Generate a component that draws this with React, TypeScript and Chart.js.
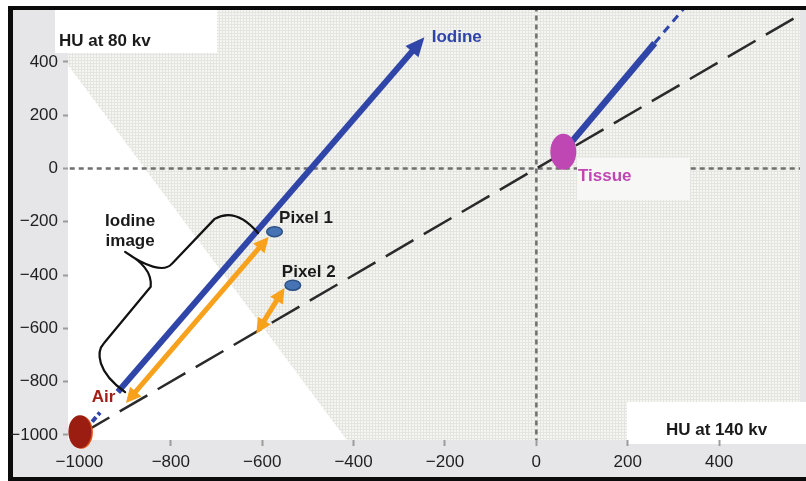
import { useEffect, useRef } from 'react';
import { Chart, registerables } from 'chart.js';

Chart.register(...registerables);

const W = 806;
const H = 481;
const FONT = '"Liberation Sans", Arial, Helvetica, sans-serif';

// ---- axes ----
const X_TICKS = [-1000, -800, -600, -400, -200, 0, 200, 400];
const Y_TICKS = [-1000, -800, -600, -400, -200, 0, 200, 400];
const X_RANGE = [-1025, 577];
const Y_RANGE = [-1019, 595];

// ---- lines (HU at 140 kv -> x, HU at 80 kv -> y) ----
const identityX = [-995, 620];
const identityY = [-995, 620];
const originHX = [-1100, 700];
const originHY = [0, 0];
const originVX = [0, 0];
const originVY = [-1100, 700];
const iodineX = [-916, -255];
const iodineY = [-839, 473];
const iodineStubX = [-985, -955];
const iodineStubY = [-976, -916];
const tissueLineX = [59, 259];
const tissueLineY = [63, 471];
const tissueTrendX = [259, 345];
const tissueTrendY = [471, 646];
const pixel1ArrowX = [-891, -593];
const pixel1ArrowY = [-866, -271];
const pixel2ArrowX = [-607, -557];
const pixel2ArrowY = [-603, -464];

// ---- points ----
const pixelNames = ['Pixel 1', 'Pixel 2'];
const pixelX = [-573, -533];
const pixelY = [-237, -438];
const airX = [-999];
const airY = [-988];
const tissueX = [59];
const tissueY = [63];

// ---- bracket ("Iodine image") path, data units ----
const bracketPath: [string, number[]][] = [
  ['M', [-609, -242]],
  ['Q', [-658, -144, -704, -189]],
  ['L', [-798, -358]],
  ['C', [-815, -392, -857, -366, -900, -313]],
  ['C', [-863, -351, -841, -388, -844, -444]],
  ['L', [-946, -655]],
  ['C', [-964, -688, -962, -764, -900, -839]],
];

const fmt = (v: number) => (v < 0 ? '\u2212' + Math.abs(v) : String(v));
const pts = (xs: number[], ys: number[]) => xs.map((x, i) => ({ x, y: ys[i] }));

const BLUE = '#2f45a8';
const ORANGE = '#f7a11c';

function makePattern(ctx: CanvasRenderingContext2D) {
  const c = document.createElement('canvas');
  c.width = 3;
  c.height = 3;
  const g = c.getContext('2d')!;
  g.fillStyle = '#f5f5f2';
  g.fillRect(0, 0, 3, 3);
  g.fillStyle = '#e4e4e0';
  g.fillRect(0, 0, 3, 1);
  g.fillRect(0, 0, 1, 3);
  return ctx.createPattern(c, 'repeat');
}

const bgPlugin = {
  id: 'bg',
  beforeDraw(chart: any) {
    const { ctx, chartArea: ca, scales } = chart;
    const X = (v: number) => scales.x.getPixelForValue(v);
    const Y = (v: number) => scales.y.getPixelForValue(v);
    ctx.save();
    ctx.fillStyle = '#ffffff';
    ctx.fillRect(0, 0, W, H);
    ctx.fillStyle = '#e6e6e8';
    ctx.fillRect(8, 6, W - 8, H - 6);
    ctx.fillStyle = '#0b0b0b';
    ctx.fillRect(8, 6, W - 8, 4);
    ctx.fillRect(8, 6, 5, H - 6);
    ctx.fillRect(8, 477, W - 8, 4);
    // patterned plot area
    ctx.fillStyle = makePattern(ctx);
    ctx.fillRect(ca.left, ca.top, ca.width, ca.height);
    // white triangle (lower-left)
    ctx.fillStyle = '#ffffff';
    ctx.beginPath();
    ctx.moveTo(ca.left, Y(389));
    ctx.lineTo(ca.left, ca.bottom);
    ctx.lineTo(X(-415), ca.bottom);
    ctx.closePath();
    ctx.fill();
    // label boxes
    ctx.fillRect(ca.left - 13, ca.top, 162, 43);
    ctx.fillRect(ca.right - 173, ca.bottom - 38, 179, 42);
    ctx.restore();
  },
};

const annoPlugin = {
  id: 'anno',
  afterDatasetsDraw(chart: any) {
    const { ctx, chartArea: ca, scales } = chart;
    const X = (v: number) => scales.x.getPixelForValue(v);
    const Y = (v: number) => scales.y.getPixelForValue(v);
    ctx.save();

    // arrow heads
    chart.data.datasets.forEach((ds: any, i: number) => {
      if (!ds.arrowEnd && !ds.arrowStart) return;
      const p = chart.getDatasetMeta(i).data;
      const head = (a: any, b: any) => {
        const dx = b.x - a.x;
        const dy = b.y - a.y;
        const d = Math.hypot(dx, dy);
        const ux = dx / d;
        const uy = dy / d;
        const tx = b.x + ux * ds.headExt;
        const ty = b.y + uy * ds.headExt;
        const bx = tx - ux * ds.headLen;
        const by = ty - uy * ds.headLen;
        const hh = ds.headHalf;
        ctx.beginPath();
        ctx.moveTo(tx, ty);
        ctx.lineTo(bx - uy * hh, by + ux * hh);
        ctx.lineTo(bx + uy * hh, by - ux * hh);
        ctx.closePath();
        ctx.fillStyle = ds.borderColor;
        ctx.fill();
      };
      if (ds.arrowEnd) head(p[p.length - 2], p[p.length - 1]);
      if (ds.arrowStart) head(p[1], p[0]);
    });

    // tissue label box
    ctx.fillStyle = '#f7f7f6';
    ctx.fillRect(X(89), Y(40), X(336) - X(89), Y(-118) - Y(40));

    // bracket
    ctx.beginPath();
    bracketPath.forEach(([cmd, v]) => {
      const q = v.map((n, k) => (k % 2 === 0 ? X(n) : Y(n)));
      if (cmd === 'M') ctx.moveTo(q[0], q[1]);
      else if (cmd === 'L') ctx.lineTo(q[0], q[1]);
      else if (cmd === 'Q') ctx.quadraticCurveTo(q[0], q[1], q[2], q[3]);
      else ctx.bezierCurveTo(q[0], q[1], q[2], q[3], q[4], q[5]);
    });
    ctx.strokeStyle = '#111111';
    ctx.lineWidth = 2.2;
    ctx.lineJoin = 'round';
    ctx.lineCap = 'round';
    ctx.stroke();

    // air
    const ax = X(airX[0]);
    const ay = Y(airY[0]);
    ctx.fillStyle = '#e0541c';
    ctx.beginPath();
    ctx.ellipse(ax + 1.5, ay + 0.5, 11.5, 16.5, 0, 0, Math.PI * 2);
    ctx.fill();
    ctx.fillStyle = '#9b1c11';
    ctx.beginPath();
    ctx.ellipse(ax, ay, 11.5, 16.5, 0, 0, Math.PI * 2);
    ctx.fill();

    // tissue
    ctx.fillStyle = '#bf47b3';
    ctx.beginPath();
    ctx.ellipse(X(tissueX[0]), Y(tissueY[0]), 13, 18, 0, 0, Math.PI * 2);
    ctx.fill();

    // pixels
    pixelX.forEach((px, i) => {
      ctx.beginPath();
      ctx.ellipse(X(px), Y(pixelY[i]), 7.8, 5, 0, 0, Math.PI * 2);
      ctx.fillStyle = '#4673b3';
      ctx.fill();
      ctx.lineWidth = 1.5;
      ctx.strokeStyle = '#2b5185';
      ctx.stroke();
    });

    // texts
    ctx.font = `bold 17px ${FONT}`;
    ctx.textBaseline = 'alphabetic';
    ctx.textAlign = 'left';
    ctx.fillStyle = '#1a1a1a';
    ctx.fillText('HU at 80 kv', ca.left - 9, ca.top + 36);
    ctx.fillText('HU at 140 kv', ca.right - 134, ca.bottom - 5);
    ctx.fillText(pixelNames[0], X(-563), Y(-204));
    ctx.fillText(pixelNames[1], X(-557), Y(-407));
    ctx.textAlign = 'center';
    ctx.fillText('Iodine', X(-889), Y(-215));
    ctx.fillText('image', X(-889), Y(-215) + 20);
    ctx.textAlign = 'left';
    ctx.fillStyle = '#2f44aa';
    ctx.fillText('Iodine', X(-229), Y(475));
    ctx.fillStyle = '#a31e16';
    ctx.fillText('Air', X(-973), Y(-876));
    ctx.fillStyle = '#c046b4';
    ctx.fillText('Tissue', X(91), Y(-47));
    ctx.restore();
  },
};

export default function App() {
  const ref = useRef<HTMLCanvasElement | null>(null);

  useEffect(() => {
    if (!ref.current) return;
    const line = (extra: any) => ({
      showLine: true,
      pointRadius: 0,
      pointHoverRadius: 0,
      fill: false,
      borderCapStyle: 'butt',
      ...extra,
    });
    const chart = new Chart(ref.current, {
      type: 'scatter',
      data: {
        datasets: [
          line({
            label: 'Pixel 1',
            data: pts(pixel1ArrowX, pixel1ArrowY),
            borderColor: ORANGE,
            borderWidth: 5,
            arrowStart: true,
            arrowEnd: true,
            headLen: 15,
            headHalf: 7.5,
            headExt: 5,
          }),
          line({
            label: 'Pixel 2',
            data: pts(pixel2ArrowX, pixel2ArrowY),
            borderColor: ORANGE,
            borderWidth: 5,
            arrowStart: true,
            arrowEnd: true,
            headLen: 15,
            headHalf: 7.5,
            headExt: 5,
          }),
          line({
            label: 'Iodine',
            data: pts(iodineX, iodineY),
            borderColor: BLUE,
            borderWidth: 6,
            arrowEnd: true,
            headLen: 19,
            headHalf: 8.5,
            headExt: 7,
          }),
          line({
            label: 'Iodine stub',
            data: pts(iodineStubX, iodineStubY),
            borderColor: BLUE,
            borderWidth: 4,
            borderDash: [6, 3],
          }),
          line({
            label: 'Tissue + iodine',
            data: pts(tissueLineX, tissueLineY),
            borderColor: BLUE,
            borderWidth: 6.5,
          }),
          line({
            label: 'Tissue trend',
            data: pts(tissueTrendX, tissueTrendY),
            borderColor: BLUE,
            borderWidth: 3,
            borderDash: [8, 6],
          }),
          line({
            label: 'Identity',
            data: pts(identityX, identityY),
            borderColor: '#2a2a2a',
            borderWidth: 2.5,
            borderDash: [32, 12],
          }),
          line({
            label: 'y=0',
            data: pts(originHX, originHY),
            borderColor: '#6f6f6f',
            borderWidth: 2.5,
            borderDash: [5, 4],
          }),
          line({
            label: 'x=0',
            data: pts(originVX, originVY),
            borderColor: '#6f6f6f',
            borderWidth: 2.5,
            borderDash: [5, 4],
          }),
        ],
      },
      options: {
        responsive: false,
        animation: false,
        devicePixelRatio: 1,
        events: [],
        layout: { padding: { top: 10, right: 6, left: 0, bottom: 0 } },
        plugins: { legend: { display: false }, tooltip: { enabled: false } },
        scales: {
          x: {
            type: 'linear',
            min: X_RANGE[0],
            max: X_RANGE[1],
            afterBuildTicks: (s: any) => {
              s.ticks = X_TICKS.map((v) => ({ value: v }));
            },
            afterFit: (s: any) => {
              s.height = 41;
              s.paddingLeft = 0;
              s.paddingRight = 0;
              s.paddingTop = 0;
              s.paddingBottom = 0;
            },
            border: { display: false },
            grid: {
              drawOnChartArea: false,
              drawTicks: true,
              tickLength: 6,
              tickColor: '#9c9c9c',
              tickWidth: 2,
            },
            ticks: {
              padding: 6,
              autoSkip: false,
              maxRotation: 0,
              color: '#1f1f1f',
              font: { family: FONT, size: 17 },
              callback: (v: any) => fmt(Number(v)),
            },
          },
          y: {
            type: 'linear',
            min: Y_RANGE[0],
            max: Y_RANGE[1],
            afterBuildTicks: (s: any) => {
              s.ticks = Y_TICKS.map((v) => ({ value: v }));
            },
            afterFit: (s: any) => {
              s.width = 68;
              s.paddingLeft = 0;
              s.paddingRight = 0;
              s.paddingTop = 0;
              s.paddingBottom = 0;
            },
            border: { display: false },
            grid: {
              drawOnChartArea: false,
              drawTicks: true,
              tickLength: 5,
              tickColor: '#9c9c9c',
              tickWidth: 2,
            },
            ticks: {
              padding: 5,
              autoSkip: false,
              color: '#1f1f1f',
              font: { family: FONT, size: 17 },
              callback: (v: any) => fmt(Number(v)),
            },
          },
        },
      } as any,
      plugins: [bgPlugin, annoPlugin],
    } as any);
    return () => chart.destroy();
  }, []);

  return (
    <div style={{ position: 'fixed', left: 0, top: 0, width: W, height: H, background: '#fff' }}>
      <canvas ref={ref} width={W} height={H} style={{ display: 'block', width: W, height: H }} />
    </div>
  );
}
